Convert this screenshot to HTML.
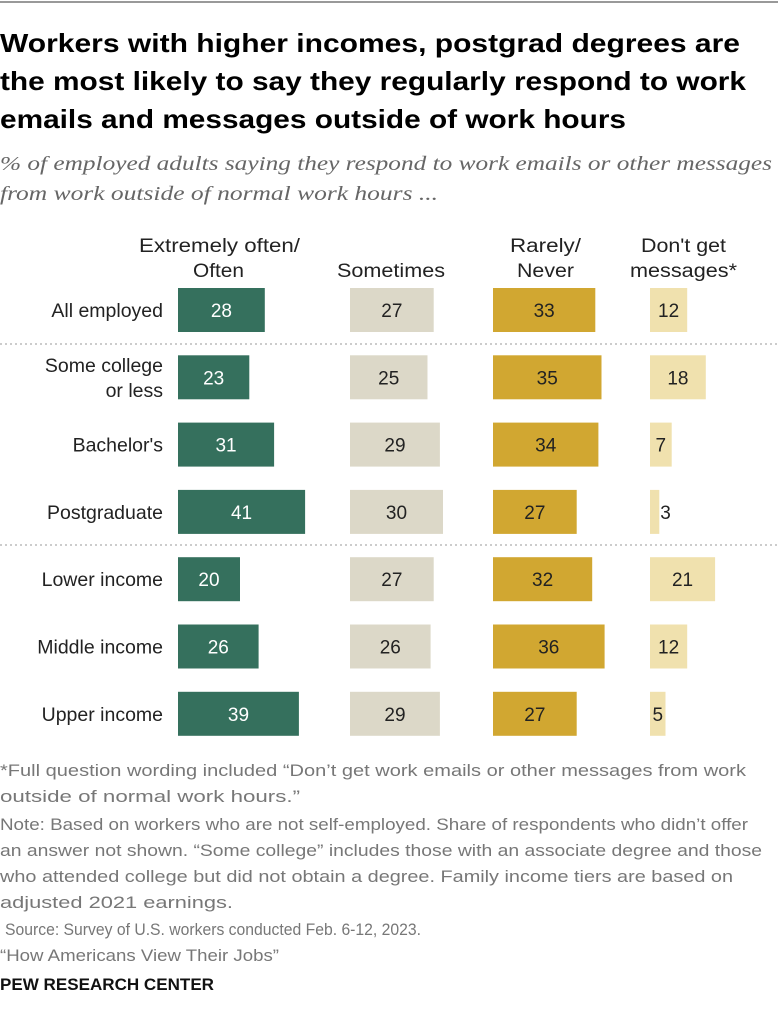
<!DOCTYPE html>
<html><head><meta charset="utf-8"><style>
body{margin:0;background:#fff;}
svg{display:block;font-family:"Liberation Sans",Arial,sans-serif;}
</style></head><body>
<svg id="chart" width="778" height="1024" viewBox="0 0 778 1024">
<line x1="0" y1="2" x2="778" y2="2" stroke="#999" stroke-width="2"/>
<g font-weight="bold" font-size="26" fill="#000">
<text x="0" y="52" textLength="740" lengthAdjust="spacingAndGlyphs">Workers with higher incomes, postgrad degrees are</text>
<text x="0" y="90" textLength="746" lengthAdjust="spacingAndGlyphs">the most likely to say they regularly respond to work</text>
<text x="0" y="128" textLength="626" lengthAdjust="spacingAndGlyphs">emails and messages outside of work hours</text>
</g>
<g font-family="Liberation Serif,serif" font-style="italic" font-size="20" fill="#666">
<text x="0" y="170" textLength="772" lengthAdjust="spacingAndGlyphs">% of employed adults saying they respond to work emails or other messages</text>
<text x="0" y="200" textLength="438" lengthAdjust="spacingAndGlyphs">from work outside of normal work hours ...</text>
</g>
<g font-size="19" fill="#222">
<text x="139" y="252" textLength="161" lengthAdjust="spacingAndGlyphs">Extremely often/</text>
<text x="193" y="277" textLength="51" lengthAdjust="spacingAndGlyphs">Often</text>
<text x="337" y="277" textLength="108" lengthAdjust="spacingAndGlyphs">Sometimes</text>
<text x="510" y="252" textLength="71" lengthAdjust="spacingAndGlyphs">Rarely/</text>
<text x="517" y="277" textLength="57" lengthAdjust="spacingAndGlyphs">Never</text>
<text x="641" y="252" textLength="85" lengthAdjust="spacingAndGlyphs">Don't get</text>
<text x="630" y="277" textLength="107" lengthAdjust="spacingAndGlyphs">messages*</text>
</g>
<g id="bars"></g>
<line x1="0" y1="344" x2="778" y2="344" stroke="#999" stroke-dasharray="2,3"/>
<line x1="0" y1="545" x2="778" y2="545" stroke="#999" stroke-dasharray="2,3"/>
<g font-size="17" fill="#777" lengthAdjust="spacingAndGlyphs">
<text x="0" y="776" textLength="746" lengthAdjust="spacingAndGlyphs">*Full question wording included “Don’t get work emails or other messages from work</text>
<text x="0" y="802" textLength="300" lengthAdjust="spacingAndGlyphs">outside of normal work hours.”</text>
<text x="0" y="830" textLength="748" lengthAdjust="spacingAndGlyphs">Note: Based on workers who are not self-employed. Share of respondents who didn’t offer</text>
<text x="0" y="856" textLength="762" lengthAdjust="spacingAndGlyphs">an answer not shown. “Some college” includes those with an associate degree and those</text>
<text x="0" y="882" textLength="733" lengthAdjust="spacingAndGlyphs">who attended college but did not obtain a degree. Family income tiers are based on</text>
<text x="0" y="908" textLength="233" lengthAdjust="spacingAndGlyphs">adjusted 2021 earnings.</text>
<text x="5" y="935" textLength="416" lengthAdjust="spacingAndGlyphs">Source: Survey of U.S. workers conducted Feb. 6-12, 2023.</text>
<text x="0" y="961" textLength="279" lengthAdjust="spacingAndGlyphs">“How Americans View Their Jobs”</text>
</g>
<text x="0" y="990" font-size="17" font-weight="bold" fill="#111" textLength="214" lengthAdjust="spacingAndGlyphs">PEW RESEARCH CENTER</text>
</svg>
<script>
const categories=[["All employed"],["Some college","or less"],["Bachelor's"],["Postgraduate"],["Lower income"],["Middle income"],["Upper income"]];
const often=[28,23,31,41,20,26,39];
const sometimes=[27,25,29,30,27,26,29];
const rarely=[33,35,34,27,32,36,27];
const noMsg=[12,18,7,3,21,12,5];
const series=[often,sometimes,rarely,noMsg];
const seriesNames=['often','sometimes','rarely','no-messages'];
const colStart=[178,350,493,650];
const colors=['#35705d','#dcd8c8','#d1a731','#f0e1ae'];
const txtColors=['#fff','#222','#222','#222'];
const scale=3.1;
const rowY=i=>310+i*67.3;
const ns='http://www.w3.org/2000/svg';
const g=document.getElementById('bars');
categories.forEach((c,i)=>{
  const cy=rowY(i);
  const lab=document.createElementNS(ns,'text');
  
  
  lab.setAttribute('text-anchor','end');lab.setAttribute('x',163);lab.setAttribute('font-size','19.5');lab.setAttribute('fill','#222');
  c.forEach((l,k)=>{const t=document.createElementNS(ns,'tspan');t.setAttribute('x',163);t.setAttribute('y',cy+7+(k-(c.length-1)/2)*25);t.textContent=l;lab.appendChild(t);});
  g.appendChild(lab);
  series.forEach((s,j)=>{
    const w=s[i]*scale;
    const r=document.createElementNS(ns,'rect');
    
    
    r.setAttribute('x',colStart[j]);r.setAttribute('y',cy-22);r.setAttribute('width',w);r.setAttribute('height',44);r.setAttribute('fill',colors[j]);
    g.appendChild(r);
    const t=document.createElementNS(ns,'text');
    
    
    const small=w<12;
    t.setAttribute('x',small?colStart[j]+w+1:colStart[j]+w/2);
    t.setAttribute('text-anchor',small?'start':'middle');
    t.setAttribute('y',cy+7);t.setAttribute('font-size','19');
    t.setAttribute('fill',small?'#222':txtColors[j]);
    t.textContent=s[i];
    g.appendChild(t);
  });
});
</script>
</body></html>
